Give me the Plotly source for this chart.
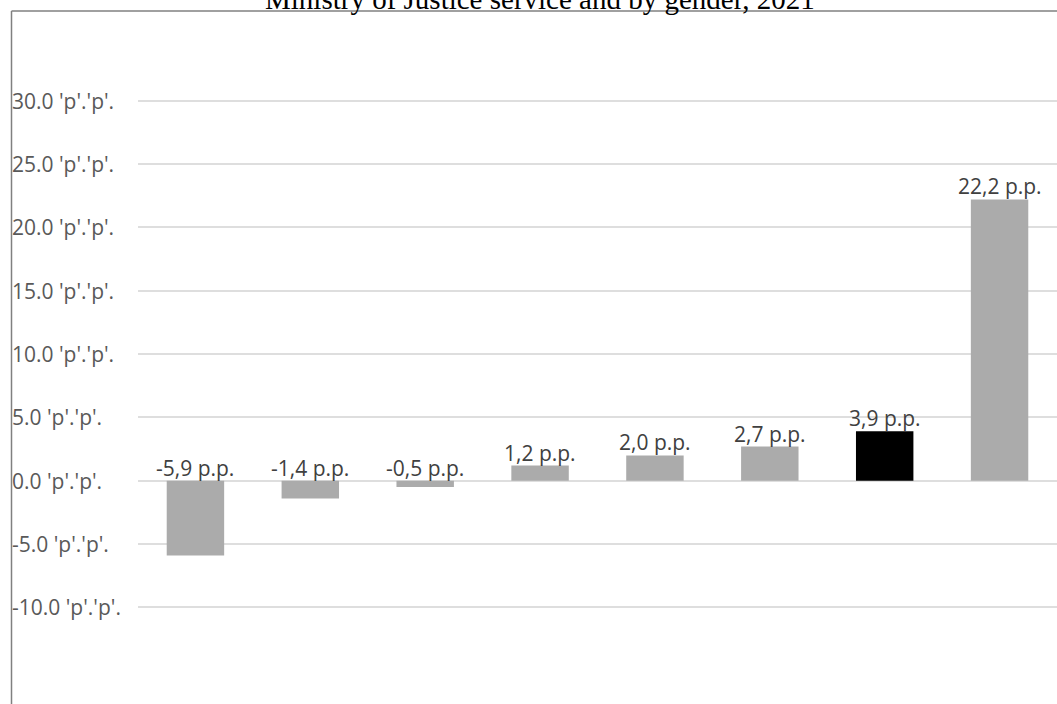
import plotly.graph_objects as go

# ---- data ----
categories = ["Cat 1", "Cat 2", "Cat 3", "Cat 4", "Cat 5", "Cat 6", "Cat 7", "Cat 8"]
values = [-5.9, -1.4, -0.5, 1.2, 2.0, 2.7, 3.9, 22.2]
bar_colors = ["#ababab", "#ababab", "#ababab", "#ababab", "#ababab", "#ababab", "#000000", "#ababab"]
tick_values = [-10, -5, 0, 5, 10, 15, 20, 25, 30]
tick_labels = [f"{v:.1f} 'p'.'p'." for v in tick_values]
data_labels = [f"{v:.1f}".replace(".", ",") + " p.p." for v in values]
title_text = "Ministry of Justice service and by gender, 2021"

W, H = 1057, 704
ML, MT, MR, MB = 138, 11, 0, 0
plot_w = W - ML - MR
plot_h = H - MT - MB

fig = go.Figure()
fig.add_trace(go.Bar(
    x=list(range(len(categories))),
    y=values,
    width=0.5,
    marker=dict(color=bar_colors, line=dict(width=0)),
    hovertext=categories,
    showlegend=False,
))

annotations = []
# data labels
for i, (v, lab) in enumerate(zip(values, data_labels)):
    annotations.append(dict(
        x=i, y=max(v, 0), xref="x", yref="y", text=lab, showarrow=False,
        yanchor="bottom", xanchor="center", yshift=-3,
        font=dict(family="Open Sans", size=21, color="#404040"),
    ))
# y tick labels, left aligned
for tv, tl in zip(tick_values, tick_labels):
    annotations.append(dict(
        x=(10 - ML) / plot_w, y=tv, xref="paper", yref="y", text=tl, showarrow=False,
        xanchor="left", yanchor="middle",
        font=dict(family="Open Sans", size=21, color="#595959"),
    ))
# title (cropped at the top)
annotations.append(dict(
    x=(540 - ML) / plot_w, y=1 + 12 / plot_h, xref="paper", yref="paper",
    text=title_text, showarrow=False, xanchor="center", yanchor="middle",
    font=dict(family="Liberation Serif", size=29, color="#000000"),
))

xl = (11.5 - ML) / plot_w
shapes = [
    dict(type="line", xref="paper", yref="paper", x0=xl, x1=1.02, y0=1, y1=1,
         line=dict(color="#808080", width=1.5)),
    dict(type="line", xref="paper", yref="paper", x0=xl, x1=xl, y0=-0.02, y1=1,
         line=dict(color="#808080", width=1.5)),
]

fig.update_layout(
    width=W, height=H,
    margin=dict(l=ML, r=MR, t=MT, b=MB),
    paper_bgcolor="white", plot_bgcolor="white",
    xaxis=dict(range=[-0.5, len(categories) - 0.5], showticklabels=False, showgrid=False,
               zeroline=False, showline=False, ticks=""),
    yaxis=dict(range=[-17.62, 37.07], tickvals=tick_values, showticklabels=False,
               showgrid=True, gridcolor="#dedede", gridwidth=2, zeroline=False,
               showline=False, ticks=""),
    annotations=annotations,
    shapes=shapes,
    bargap=0.5,
)

fig.write_html("out.html")
